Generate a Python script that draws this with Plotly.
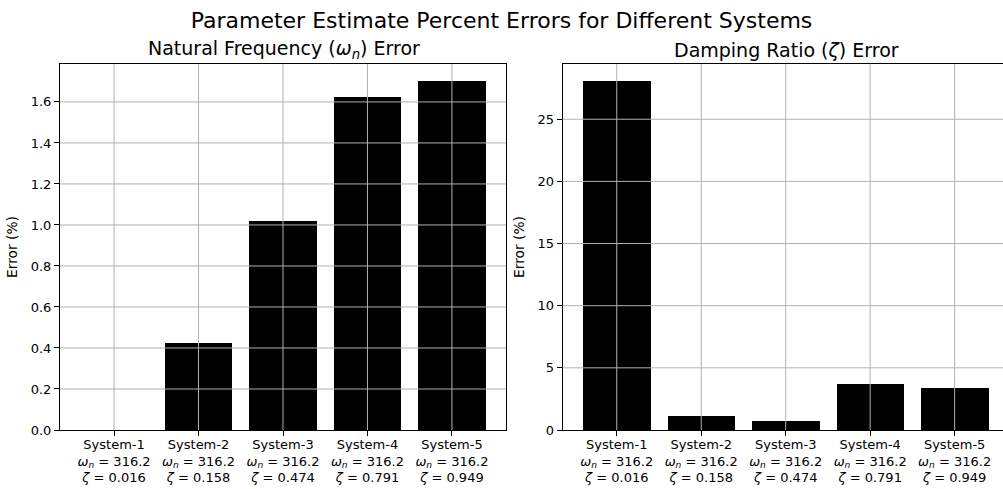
import plotly.graph_objects as go

systems = ["System-1", "System-2", "System-3", "System-4", "System-5"]
wn_values = [316.2, 316.2, 316.2, 316.2, 316.2]
zeta_values = [0.016, 0.158, 0.474, 0.791, 0.949]
wn_errors = [0.0, 0.424, 1.020, 1.625, 1.700]
zeta_errors = [28.04, 1.15, 0.70, 3.68, 3.41]

left_yticks = [0.0, 0.2, 0.4, 0.6, 0.8, 1.0, 1.2, 1.4, 1.6]
right_yticks = [0, 5, 10, 15, 20, 25]

tick_labels = [
    f"{s}<br><i>ω</i><sub><i>n</i></sub> = {w:.1f}<br><i>ζ</i> = {z:.3f}"
    for s, w, z in zip(systems, wn_values, zeta_values)
]
xpos = list(range(len(systems)))

FONT = "DejaVu Sans"
GRID = "#b0b0b0"

fig = go.Figure()
fig.add_trace(go.Bar(x=xpos, y=wn_errors, width=0.8, marker=dict(color="black", line=dict(width=0)),
                     xaxis="x", yaxis="y", showlegend=False))
fig.add_trace(go.Bar(x=xpos, y=zeta_errors, width=0.8, marker=dict(color="black", line=dict(width=0)),
                     xaxis="x2", yaxis="y2", showlegend=False))

W, H = 1003, 489
ml, mr, mt, mb = 60, 0, 64, 59
pw = W - ml - mr
ph = H - mt - mb
px_unit = 446 / 5.28
left_dom = [0, 446 / pw]
right_start = (562.7 - ml) / pw
right_dom = [right_start, 1.0]
right_end = -0.64 + (pw - (562.7 - ml)) / px_unit

axis_common = dict(showline=True, linecolor="black", linewidth=1, ticks="outside", ticklen=5,
                   tickcolor="black", tickwidth=1, showgrid=False, zeroline=False,
                   tickfont=dict(family=FONT, size=13, color="black"))

fig.update_layout(
    width=W, height=H,
    margin=dict(l=ml, r=mr, t=mt, b=mb),
    paper_bgcolor="white", plot_bgcolor="white",
    font=dict(family=FONT, color="black"),
    bargap=0,
    xaxis=dict(domain=left_dom, range=[-0.64, 4.64], tickmode="array", tickvals=xpos,
               ticktext=tick_labels, mirror=True, anchor="y", ticklabelstandoff=-3, **axis_common),
    yaxis=dict(domain=[0, 1], range=[0, max(wn_errors) * 1.05], tickmode="array",
               tickvals=left_yticks, ticktext=[f"{v:.1f}" for v in left_yticks], mirror=True,
               anchor="x", title=dict(text="Error (%)", font=dict(family=FONT, size=13.8), standoff=9),
               **axis_common),
    xaxis2=dict(domain=right_dom, range=[-0.64, right_end], tickmode="array", tickvals=xpos,
                ticktext=tick_labels, mirror=True, anchor="y2", ticklabelstandoff=-3, **axis_common),
    yaxis2=dict(domain=[0, 1], range=[0, max(zeta_errors) * 1.05], tickmode="array",
                tickvals=right_yticks, ticktext=[str(v) for v in right_yticks], anchor="x2",
                title=dict(text="Error (%)", font=dict(family=FONT, size=13.8), standoff=9),
                **axis_common),
    title=dict(text="Parameter Estimate Percent Errors for Different Systems",
               x=0.5, xanchor="center", y=1 - 20 / H, yanchor="middle",
               font=dict(family=FONT, size=22, color="black")),
)

shapes = []
for xa, ya, yt in (("x", "y", left_yticks), ("x2", "y2", right_yticks)):
    for v in xpos:
        shapes.append(dict(type="line", xref=xa, yref=f"{ya} domain", x0=v, x1=v, y0=0, y1=1,
                           line=dict(color=GRID, width=1), layer="above"))
    for v in yt[1:]:
        shapes.append(dict(type="line", xref=f"{xa} domain", yref=ya, x0=0, x1=1, y0=v, y1=v,
                           line=dict(color=GRID, width=1), layer="above"))
fig.update_layout(shapes=shapes)

sub_y = 1 + (mt - 50) / ph
fig.add_annotation(text="Natural Frequency (<i>ω</i><sub><i>n</i></sub>) Error", xref="paper", yref="paper",
                   x=(283.7 - ml) / pw, y=sub_y, xanchor="center", yanchor="middle", showarrow=False,
                   font=dict(family=FONT, size=19, color="black"))
fig.add_annotation(text="Damping Ratio (<i>ζ</i>) Error", xref="paper", yref="paper",
                   x=(786 - ml) / pw, y=sub_y, xanchor="center", yanchor="middle", showarrow=False,
                   font=dict(family=FONT, size=19, color="black"))

fig.write_html("out.html", config={"displayModeBar": False},
               post_script="document.body.style.margin='0';document.body.style.overflow='hidden';")
